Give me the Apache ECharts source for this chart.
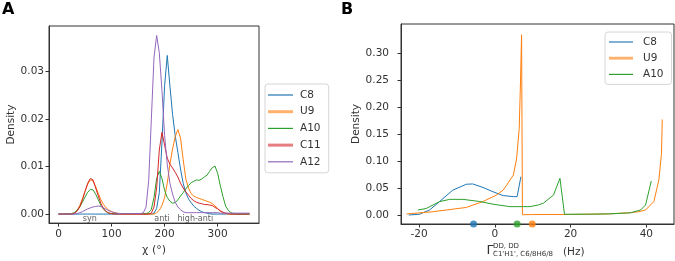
<!DOCTYPE html>
<html>
<head>
<meta charset="utf-8">
<script src="https://cdn.jsdelivr.net/npm/echarts@6.0.0/dist/echarts.min.js"></script>
<style>
  html, body { margin: 0; padding: 0; background: #fff; }
  #chart { width: 675px; height: 261px; }
</style>
</head>
<body>
<div id="chart"></div>
<script>
// panel A: chi angle grid (deg) and density per residue
const chi = [0, 5, 10, 15, 20, 25, 30, 35, 40, 45, 50, 55, 60, 65, 70, 75, 80, 85, 90, 95,
  100, 105, 110, 115, 120, 125, 130, 135, 140, 145, 150, 155, 160, 165, 170, 175, 180, 185, 190, 195,
  200, 205, 210, 215, 220, 225, 230, 235, 240, 245, 250, 255, 260, 265, 270, 275, 280, 285, 290, 295,
  300, 305, 310, 315, 320, 325, 330, 335, 340, 345, 350, 355, 360]

const c8 = [0, 0, 0, 0, 0, 0, 0, 0, 0, 0, 0, 0, 0, 0, 0, 0, 0, 0, 0, 0,
  0, 0, 0, 0, 0, 0, 0, 0, 0, 0, 0, 0, 0, 0, 0, 0, 0.0002, 0.0012, 0.0045, 0.015,
  0.027, 0.0334, 0.027, 0.021, 0.0165, 0.013, 0.0095, 0.0065, 0.0045, 0.0032, 0.0024, 0.0017, 0.0012, 0.0008, 0.0005, 0.0003, 0.0002, 0.0001, 0, 0,
  0, 0, 0, 0, 0, 0, 0, 0, 0, 0, 0, 0, 0]

const u9 = [0, 0, 0, 0, 0, 0.0001, 0.0003, 0.0008, 0.0018, 0.0032, 0.0048, 0.0063, 0.0072, 0.007, 0.0058, 0.0043, 0.003, 0.002, 0.0013, 0.0008,
  0.0005, 0.0003, 0.0002, 0.0001, 0, 0, 0, 0, 0, 0, 0, 0, 0, 0, 0, 0, 0, 0.0003, 0.0008, 0.0018,
  0.0035, 0.0065, 0.0105, 0.0137, 0.0163, 0.0178, 0.016, 0.0115, 0.0074, 0.0055, 0.0043, 0.0038, 0.0035, 0.0033, 0.0031, 0.0029, 0.0027, 0.0025, 0.0022, 0.0017,
  0.0012, 0.0006, 0.0003, 0.0001, 0, 0, 0, 0, 0, 0, 0, 0, 0]

const a10 = [0, 0, 0, 0, 0, 0.0001, 0.0003, 0.0008, 0.0015, 0.0025, 0.0036, 0.0046, 0.0052, 0.0051, 0.0042, 0.003, 0.0018, 0.001, 0.0005, 0.0002,
  0.0001, 0.0001, 0.0001, 0.0001, 0.0001, 0.0001, 0.0001, 0.0001, 0.0001, 0.0001, 0.0001, 0.0001, 0.0001, 0.0001, 0.0003, 0.001, 0.0035, 0.0075, 0.009, 0.0075,
  0.005, 0.0035, 0.0027, 0.0023, 0.0024, 0.003, 0.0038, 0.0045, 0.0053, 0.006, 0.0066, 0.0069, 0.0072, 0.0071, 0.0074, 0.0078, 0.0082, 0.009, 0.0098, 0.0101,
  0.0086, 0.006, 0.0037, 0.0017, 0.0008, 0.0003, 0.0001, 0, 0, 0, 0, 0, 0]

const c11 = [0, 0, 0, 0, 0, 0, 0.0002, 0.0006, 0.0015, 0.003, 0.0048, 0.0065, 0.0075, 0.0072, 0.0055, 0.0038, 0.0022, 0.0011, 0.0005, 0.0002,
  0.0001, 0, 0, 0, 0, 0, 0, 0, 0, 0, 0, 0, 0, 0, 0, 0.0002, 0.0015, 0.0055, 0.0135, 0.0172,
  0.0145, 0.0118, 0.0105, 0.0097, 0.0088, 0.0078, 0.0065, 0.0055, 0.0047, 0.004, 0.0033, 0.0028, 0.0025, 0.0023, 0.0022, 0.002, 0.002, 0.0019, 0.0018, 0.0014,
  0.0011, 0.0007, 0.0004, 0.0002, 0.0001, 0, 0, 0, 0, 0, 0, 0, 0]

const a12 = [0, 0, 0, 0, 0, 0, 0, 0.0001, 0.0003, 0.0005, 0.0008, 0.0011, 0.0013, 0.0015, 0.0016, 0.0017, 0.0016, 0.0013, 0.001, 0.0007,
  0.0005, 0.0003, 0.0002, 0.0001, 0.0001, 0.0001, 0.0001, 0.0001, 0.0001, 0.0001, 0.0001, 0.0001, 0.0003, 0.0015, 0.007, 0.02, 0.033, 0.0376, 0.034, 0.026,
  0.0165, 0.0105, 0.0065, 0.0042, 0.0025, 0.0015, 0.0009, 0.0005, 0.0003, 0.0003, 0.0003, 0.0003, 0.0003, 0.0003, 0.0003, 0.0003, 0.0003, 0.0003, 0.0003, 0.0003,
  0.0003, 0.0002, 0.0002, 0.0002, 0.0002, 0.0002, 0.0002, 0.0002, 0.0002, 0.0002, 0.0002, 0.0002, 0.0002]

const regionNames = ['syn', 'anti', 'high-anti']
const regionChi = [59, 195, 258]

const ticksAx = [0, 100, 200, 300]
const ticksAy = [0, 0.01, 0.02, 0.03]

// panel B: dipolar cross-correlated rates (Hz) and density
const c8X = [-22.7, -19.9, -17.2, -14.6, -11.1, -7.5, -5.8, -3.1, -0.45, 2.2, 4.9, 5.9, 6.9]
const c8Y = [0, 0.0013, 0.0093, 0.0247, 0.046, 0.057, 0.0575, 0.051, 0.043, 0.036, 0.034, 0.034, 0.071]

const u9X = [-23.3, -16.4, -7.5, -3.1, 0.45, 2.2, 3.1, 4.9, 5.75, 6.45, 6.8, 7.07, 7.3, 10, 20, 30, 35, 38, 39.8, 42, 43.3, 44, 44.2]
const u9Y = [0.0019, 0.006, 0.014, 0.025, 0.037, 0.046, 0.055, 0.074, 0.104, 0.16, 0.25, 0.334, 0.0005, 0.0008, 0.001, 0.002, 0.004, 0.006, 0.0093, 0.025, 0.065, 0.114, 0.177]

const a10X = [-20.3, -18.1, -14.6, -11.9, -8.4, -4, -0.45, 4, 7.5, 9.3, 11.5, 12.8, 15.5, 17.2, 18.4, 25, 30, 35.8, 38.5, 39.8, 41.3]
const a10Y = [0.0093, 0.012, 0.0247, 0.029, 0.029, 0.025, 0.02, 0.0155, 0.0155, 0.0155, 0.0186, 0.0217, 0.037, 0.068, 0.0013, 0.0015, 0.002, 0.004, 0.0093, 0.0186, 0.063]

const meanNames = ['C8', 'U9', 'A10']
const meanX = [-5.6, 9.9, 5.9]

const ticksBx = [-20, 0, 20, 40]
const ticksBy = [0, 0.05, 0.1, 0.15, 0.2, 0.25, 0.3]

const colors = { C8: '#1f77b4', U9: '#ff7f0e', A10: '#2ca02c', C11: '#d62728', A12: '#9467bd' }

const yMinA = -0.0019
const yMinB = -0.0167
const txt = '#333'
const font = 'DejaVu Sans'

// legend swatches: thin line, or thick faded line for some entries
const thinIcon = 'path://M0,0 L25,0 L25,1.2 L0,1.2 Z'
const thickIcon = 'path://M0,0 L25,0 L25,3 L0,3 Z'

function pairs (xs, ys) {
  return xs.map((x, i) => [x, ys[i]])
}

function line (name, data, idx) {
  return {
    name: name,
    type: 'line',
    xAxisIndex: idx,
    yAxisIndex: idx,
    data: data,
    symbol: 'none',
    color: colors[name],
    lineStyle: { width: 1 },
    animation: false
  }
}

function axisBase (min, max, ticks, fmt, margin) {
  return {
    type: 'value',
    min: min,
    max: max,
    axisLine: { show: true, onZero: false, lineStyle: { color: '#333', width: 1 } },
    splitLine: { show: false },
    axisTick: { show: true, length: 3.5, customValues: ticks, lineStyle: { color: '#333' } },
    axisLabel: { customValues: ticks, formatter: fmt, color: txt, fontFamily: font, fontSize: 10.5, margin: margin }
  }
}

function legendItem (name, thick) {
  return {
    name: name,
    icon: thick ? thickIcon : thinIcon,
    itemStyle: thick ? { opacity: 0.6 } : {}
  }
}

const legendText = { color: txt, fontFamily: font, fontSize: 10.5, lineHeight: 12 }

const option = {
  backgroundColor: '#fff',
  grid: [
    { left: 49, top: 26, width: 210, height: 204, show: true, borderColor: '#333', borderWidth: 1 },
    { left: 401, top: 24, width: 273, height: 200, show: true, borderColor: '#333', borderWidth: 1 }
  ],
  xAxis: [
    Object.assign(axisBase(-18, 378, ticksAx, v => String(v), 6), {
      gridIndex: 0, name: 'χ (°)', nameLocation: 'middle', nameGap: 15,
      nameTextStyle: { color: txt, fontFamily: font, fontSize: 11 }
    }),
    Object.assign(axisBase(-24.75, 47.3, ticksBx, v => String(v), 5), { gridIndex: 1 })
  ],
  yAxis: [
    Object.assign(axisBase(yMinA, 0.0396, ticksAy, v => v.toFixed(2), 5), {
      gridIndex: 0, name: 'Density', nameLocation: 'middle', nameGap: 31,
      nameTextStyle: { color: txt, fontFamily: font, fontSize: 10.5 }
    }),
    Object.assign(axisBase(yMinB, 0.354, ticksBy, v => v.toFixed(2), 12), {
      gridIndex: 1, name: 'Density', nameLocation: 'middle', nameGap: 37,
      nameTextStyle: { color: txt, fontFamily: font, fontSize: 10.5 }
    })
  ],
  legend: [
    {
      orient: 'vertical', left: 265, top: 84, itemWidth: 25, itemHeight: 10, itemGap: 4.7,
      padding: [5, 8, 5, 3], backgroundColor: '#fff', borderColor: '#d6d6d6', borderWidth: 1, borderRadius: 3,
      textStyle: Object.assign({ padding: [0, 0, 0, 2] }, legendText),
      data: [
        legendItem('C8', false),
        legendItem('U9', true),
        legendItem('A10', false),
        legendItem('C11', true),
        legendItem('A12', false)
      ]
    },
    {
      orient: 'vertical', left: 605, top: 32, itemWidth: 24, itemHeight: 10, itemGap: 4.2,
      padding: [4, 8, 4, 4], backgroundColor: '#fff', borderColor: '#d6d6d6', borderWidth: 1, borderRadius: 3,
      textStyle: Object.assign({ padding: [0, 0, 0, 5] }, legendText),
      data: [
        legendItem('C8', false),
        legendItem('U9', true),
        legendItem('A10', false)
      ]
    }
  ],
  graphic: [
    { type: 'text', left: 2, top: 2, style: { text: 'A', font: 'bold 16px "DejaVu Sans"', fill: '#000' } },
    { type: 'text', left: 341, top: 2, style: { text: 'B', font: 'bold 16px "DejaVu Sans"', fill: '#000' } },
    { type: 'text', x: 486.5, y: 251, style: { text: 'Γ', font: '13px "DejaVu Sans"', fill: txt, verticalAlign: 'middle' } },
    { type: 'text', x: 493, y: 246.5, style: { text: 'DD, DD', font: '7px "DejaVu Sans"', fill: txt, verticalAlign: 'middle' } },
    { type: 'text', x: 493, y: 254.5, style: { text: "C1'H1', C6/8H6/8", font: '7px "DejaVu Sans"', fill: txt, verticalAlign: 'middle' } },
    { type: 'text', x: 563, y: 252, style: { text: '(Hz)', font: '10.5px "DejaVu Sans"', fill: txt, verticalAlign: 'middle' } }
  ],
  series: [
    line('C8', pairs(chi, c8), 0),
    line('U9', pairs(chi, u9), 0),
    line('A10', pairs(chi, a10), 0),
    line('C11', pairs(chi, c11), 0),
    line('A12', pairs(chi, a12), 0),
    {
      type: 'scatter', xAxisIndex: 0, yAxisIndex: 0, symbolSize: 0, silent: true, animation: false,
      data: regionNames.map((n, i) => ({ name: n, value: [regionChi[i], -0.0011] })),
      label: { show: true, position: 'inside', formatter: '{b}', color: txt, fontFamily: font, fontSize: 8 }
    },
    line('C8', pairs(c8X, c8Y), 1),
    line('U9', pairs(u9X, u9Y), 1),
    line('A10', pairs(a10X, a10Y), 1),
    {
      type: 'scatter', xAxisIndex: 1, yAxisIndex: 1, symbolSize: 7, clip: false, animation: false, z: 5,
      data: meanNames.map((n, i) => ({ value: [meanX[i], yMinB], itemStyle: { color: colors[n] } }))
    }
  ]
}

const chart = echarts.init(document.getElementById('chart'), null, { renderer: 'canvas' })
chart.setOption(option)
</script>
</body>
</html>
